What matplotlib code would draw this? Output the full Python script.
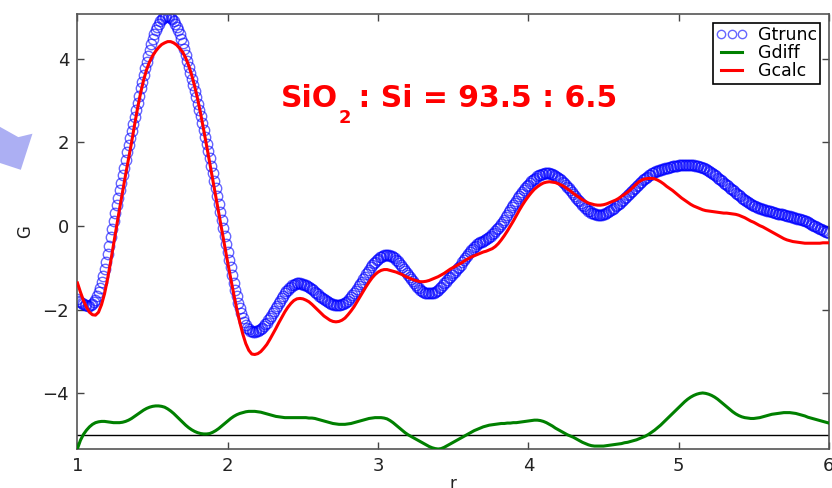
import numpy as np
import matplotlib
matplotlib.use('Agg')
import matplotlib.pyplot as plt
from matplotlib.patches import Polygon

# PDF curves, G(r): truncated data every 0.01, fit and difference every 0.02
g_trunc = [
    -1.75, -1.78, -1.81, -1.84, -1.86, -1.88, -1.89, -1.90, -1.90, -1.89,
    -1.86, -1.82, -1.76, -1.68, -1.58, -1.47, -1.34, -1.19, -1.03, -0.86,
    -0.67, -0.47, -0.27, -0.07, 0.12, 0.31, 0.50, 0.68, 0.86, 1.04,
    1.22, 1.40, 1.58, 1.76, 1.93, 2.10, 2.27, 2.44, 2.61, 2.78,
    2.95, 3.12, 3.29, 3.45, 3.61, 3.77, 3.92, 4.07, 4.21, 4.35,
    4.48, 4.59, 4.69, 4.77, 4.84, 4.90, 4.95, 4.98, 5.01, 5.02,
    5.02, 5.01, 4.98, 4.95, 4.90, 4.84, 4.77, 4.69, 4.59, 4.48,
    4.37, 4.23, 4.09, 3.94, 3.80, 3.66, 3.52, 3.38, 3.23, 3.08,
    2.93, 2.78, 2.62, 2.46, 2.30, 2.14, 1.97, 1.80, 1.62, 1.44,
    1.26, 1.08, 0.90, 0.71, 0.52, 0.33, 0.14, -0.05, -0.24, -0.43,
    -0.62, -0.81, -0.99, -1.17, -1.35, -1.52, -1.68, -1.83, -1.97, -2.09,
    -2.20, -2.29, -2.37, -2.43, -2.47, -2.50, -2.52, -2.53, -2.53, -2.52,
    -2.51, -2.49, -2.46, -2.43, -2.40, -2.35, -2.31, -2.25, -2.20, -2.14,
    -2.08, -2.02, -1.96, -1.90, -1.84, -1.78, -1.72, -1.66, -1.61, -1.56,
    -1.52, -1.48, -1.45, -1.42, -1.40, -1.38, -1.37, -1.37, -1.37, -1.38,
    -1.39, -1.40, -1.42, -1.44, -1.46, -1.48, -1.51, -1.54, -1.57, -1.60,
    -1.63, -1.66, -1.69, -1.72, -1.75, -1.77, -1.80, -1.82, -1.84, -1.86,
    -1.87, -1.88, -1.89, -1.89, -1.89, -1.89, -1.87, -1.86, -1.84, -1.81,
    -1.78, -1.74, -1.70, -1.65, -1.60, -1.55, -1.50, -1.44, -1.38, -1.33,
    -1.27, -1.21, -1.15, -1.09, -1.04, -0.99, -0.94, -0.89, -0.85, -0.81,
    -0.78, -0.75, -0.73, -0.71, -0.70, -0.69, -0.69, -0.70, -0.71, -0.72,
    -0.75, -0.77, -0.80, -0.84, -0.88, -0.92, -0.97, -1.02, -1.07, -1.12,
    -1.17, -1.22, -1.27, -1.32, -1.37, -1.41, -1.45, -1.49, -1.52, -1.55,
    -1.57, -1.59, -1.60, -1.61, -1.61, -1.61, -1.60, -1.59, -1.57, -1.55,
    -1.52, -1.49, -1.45, -1.41, -1.37, -1.33, -1.29, -1.25, -1.21, -1.17,
    -1.13, -1.09, -1.05, -1.01, -0.97, -0.92, -0.87, -0.82, -0.77, -0.72,
    -0.67, -0.62, -0.58, -0.54, -0.50, -0.47, -0.44, -0.41, -0.39, -0.37,
    -0.35, -0.33, -0.31, -0.29, -0.26, -0.23, -0.20, -0.16, -0.12, -0.08,
    -0.04, 0.00, 0.05, 0.10, 0.15, 0.21, 0.27, 0.33, 0.39, 0.45,
    0.51, 0.56, 0.61, 0.66, 0.71, 0.76, 0.81, 0.86, 0.91, 0.95,
    0.99, 1.03, 1.07, 1.10, 1.13, 1.16, 1.19, 1.21, 1.23, 1.24,
    1.25, 1.26, 1.26, 1.26, 1.26, 1.25, 1.24, 1.22, 1.20, 1.18,
    1.16, 1.13, 1.09, 1.06, 1.02, 0.98, 0.94, 0.90, 0.86, 0.81,
    0.77, 0.72, 0.68, 0.63, 0.59, 0.55, 0.51, 0.47, 0.44, 0.40,
    0.37, 0.35, 0.32, 0.31, 0.29, 0.28, 0.27, 0.27, 0.27, 0.27,
    0.28, 0.29, 0.31, 0.33, 0.35, 0.38, 0.41, 0.44, 0.47, 0.50,
    0.53, 0.56, 0.60, 0.63, 0.67, 0.70, 0.74, 0.77, 0.81, 0.84,
    0.88, 0.91, 0.95, 0.98, 1.02, 1.05, 1.09, 1.12, 1.15, 1.18,
    1.21, 1.23, 1.26, 1.28, 1.29, 1.31, 1.32, 1.34, 1.35, 1.36,
    1.37, 1.38, 1.39, 1.40, 1.41, 1.42, 1.43, 1.43, 1.44, 1.44,
    1.45, 1.45, 1.46, 1.46, 1.46, 1.46, 1.46, 1.46, 1.46, 1.45,
    1.45, 1.44, 1.44, 1.43, 1.42, 1.41, 1.40, 1.38, 1.36, 1.34,
    1.32, 1.30, 1.28, 1.25, 1.22, 1.19, 1.16, 1.13, 1.10, 1.07,
    1.04, 1.01, 0.98, 0.95, 0.92, 0.89, 0.86, 0.83, 0.80, 0.77,
    0.74, 0.71, 0.68, 0.65, 0.62, 0.60, 0.57, 0.55, 0.53, 0.51,
    0.49, 0.47, 0.46, 0.44, 0.43, 0.42, 0.40, 0.39, 0.38, 0.37,
    0.36, 0.35, 0.34, 0.33, 0.32, 0.31, 0.30, 0.30, 0.29, 0.28,
    0.27, 0.26, 0.25, 0.24, 0.23, 0.22, 0.21, 0.20, 0.19, 0.18,
    0.17, 0.16, 0.15, 0.14, 0.12, 0.11, 0.09, 0.07, 0.05, 0.03,
    0.01, -0.01, -0.03, -0.05, -0.07, -0.08, -0.10, -0.12, -0.13, -0.15,
    -0.16,
]

g_calc = [
    -1.36, -1.58, -1.78, -1.94, -2.06, -2.12, -2.13, -2.06, -1.88, -1.62,
    -1.27, -0.87, -0.44, 0.00, 0.41, 0.82, 1.22, 1.61, 2.00, 2.42,
    2.82, 3.18, 3.49, 3.74, 3.93, 4.07, 4.18, 4.27, 4.34, 4.38,
    4.41, 4.41, 4.38, 4.33, 4.25, 4.16, 4.02, 3.84, 3.61, 3.34,
    3.03, 2.68, 2.30, 1.91, 1.51, 1.11, 0.71, 0.31, -0.09, -0.49,
    -0.88, -1.26, -1.63, -1.98, -2.30, -2.58, -2.81, -2.97, -3.06, -3.07,
    -3.05, -3.00, -2.92, -2.83, -2.71, -2.58, -2.45, -2.31, -2.18, -2.05,
    -1.94, -1.85, -1.78, -1.74, -1.73, -1.74, -1.77, -1.81, -1.87, -1.94,
    -2.01, -2.08, -2.15, -2.20, -2.25, -2.28, -2.29, -2.28, -2.25, -2.20,
    -2.12, -2.03, -1.93, -1.81, -1.69, -1.57, -1.45, -1.34, -1.24, -1.16,
    -1.10, -1.06, -1.04, -1.04, -1.06, -1.08, -1.10, -1.13, -1.16, -1.20,
    -1.23, -1.26, -1.29, -1.31, -1.33, -1.33, -1.32, -1.30, -1.27, -1.24,
    -1.21, -1.17, -1.13, -1.08, -1.03, -0.99, -0.95, -0.91, -0.87, -0.82,
    -0.78, -0.74, -0.71, -0.68, -0.65, -0.62, -0.60, -0.57, -0.54, -0.49,
    -0.42, -0.33, -0.23, -0.12, 0.00, 0.12, 0.25, 0.38, 0.50, 0.61,
    0.71, 0.80, 0.88, 0.94, 0.99, 1.03, 1.05, 1.06, 1.05, 1.04,
    1.01, 0.98, 0.94, 0.89, 0.84, 0.78, 0.73, 0.68, 0.63, 0.59,
    0.55, 0.53, 0.51, 0.50, 0.50, 0.51, 0.53, 0.56, 0.59, 0.62,
    0.66, 0.71, 0.76, 0.81, 0.87, 0.94, 1.01, 1.07, 1.11, 1.13,
    1.14, 1.14, 1.13, 1.10, 1.06, 1.01, 0.95, 0.90, 0.85, 0.79,
    0.73, 0.67, 0.62, 0.57, 0.52, 0.48, 0.45, 0.42, 0.39, 0.37,
    0.36, 0.35, 0.34, 0.33, 0.32, 0.31, 0.31, 0.30, 0.29, 0.28,
    0.26, 0.23, 0.20, 0.16, 0.12, 0.09, 0.05, 0.01, -0.02, -0.06,
    -0.10, -0.14, -0.18, -0.22, -0.26, -0.30, -0.33, -0.35, -0.37, -0.38,
    -0.39, -0.40, -0.41, -0.41, -0.41, -0.41, -0.41, -0.41, -0.40, -0.40,
    -0.40,
]

g_diff = [
    -5.32, -5.12, -4.98, -4.88, -4.80, -4.74, -4.70, -4.68, -4.67, -4.67,
    -4.68, -4.69, -4.70, -4.70, -4.70, -4.69, -4.67, -4.64, -4.60, -4.55,
    -4.50, -4.45, -4.40, -4.36, -4.33, -4.31, -4.30, -4.30, -4.31, -4.33,
    -4.37, -4.42, -4.48, -4.55, -4.62, -4.69, -4.76, -4.82, -4.87, -4.91,
    -4.94, -4.96, -4.97, -4.97, -4.96, -4.93, -4.89, -4.84, -4.78, -4.72,
    -4.66, -4.60, -4.55, -4.51, -4.48, -4.46, -4.44, -4.43, -4.43, -4.43,
    -4.44, -4.45, -4.47, -4.49, -4.51, -4.53, -4.55, -4.56, -4.57, -4.58,
    -4.58, -4.58, -4.58, -4.58, -4.58, -4.58, -4.58, -4.59, -4.59, -4.60,
    -4.62, -4.64, -4.66, -4.68, -4.70, -4.72, -4.73, -4.74, -4.74, -4.74,
    -4.73, -4.72, -4.70, -4.68, -4.66, -4.64, -4.62, -4.60, -4.59, -4.58,
    -4.58, -4.58, -4.59, -4.61, -4.65, -4.70, -4.76, -4.82, -4.88, -4.94,
    -4.99, -5.03, -5.07, -5.11, -5.15, -5.19, -5.23, -5.27, -5.30, -5.32,
    -5.33, -5.32, -5.29, -5.25, -5.21, -5.17, -5.13, -5.09, -5.05, -5.01,
    -4.97, -4.93, -4.89, -4.86, -4.83, -4.80, -4.78, -4.76, -4.75, -4.74,
    -4.73, -4.72, -4.72, -4.71, -4.71, -4.70, -4.70, -4.69, -4.68, -4.67,
    -4.66, -4.65, -4.64, -4.64, -4.65, -4.67, -4.70, -4.74, -4.78, -4.83,
    -4.87, -4.91, -4.95, -4.99, -5.02, -5.05, -5.09, -5.13, -5.17, -5.20,
    -5.23, -5.25, -5.26, -5.26, -5.26, -5.26, -5.25, -5.24, -5.23, -5.22,
    -5.21, -5.20, -5.18, -5.17, -5.15, -5.13, -5.11, -5.08, -5.05, -5.02,
    -4.98, -4.93, -4.88, -4.82, -4.76, -4.69, -4.62, -4.55, -4.48, -4.41,
    -4.34, -4.27, -4.20, -4.14, -4.09, -4.05, -4.02, -4.00, -3.99, -4.00,
    -4.02, -4.05, -4.09, -4.14, -4.20, -4.26, -4.32, -4.38, -4.44, -4.49,
    -4.53, -4.56, -4.58, -4.59, -4.60, -4.60, -4.59, -4.58, -4.56, -4.54,
    -4.52, -4.50, -4.49, -4.48, -4.47, -4.46, -4.46, -4.46, -4.47, -4.48,
    -4.50, -4.52, -4.54, -4.57, -4.59, -4.61, -4.63, -4.65, -4.67, -4.69,
    -4.71,
]

r_trunc = np.linspace(1.0, 6.0, len(g_trunc))
r_fit = np.linspace(1.0, 6.0, len(g_calc))
diff_offset = -5.0

x_ticks = [1, 2, 3, 4, 5, 6]
y_ticks = [-4, -2, 0, 2, 4]
ratio_text = ['SiO', '2', ' : Si = 93.5 : 6.5']

plt.rcParams['font.family'] = ['DejaVu Sans']
plt.rcParams['axes.unicode_minus'] = True

fig = plt.figure(figsize=(8.32, 4.88), dpi=100)
ax = fig.add_axes([0.0931, 0.0799, 0.9032, 0.8914])

# slide arrow peeking in from the left
arrow = Polygon([(0.0, 0.740), (0.022, 0.719), (0.039, 0.726), (0.025, 0.652), (0.0, 0.666)],
                closed=True, transform=fig.transFigure, facecolor='#a3a6f2',
                edgecolor='none', alpha=0.9)
fig.patches.append(arrow)

ax.plot(r_trunc, g_trunc, 'o', ms=7.5, mfc='none', mec='blue', mew=1.0,
        alpha=0.6, label='Gtrunc', zorder=2)
ax.plot(r_fit, g_diff, color='green', lw=2.2, label='Gdiff', zorder=3)
ax.plot(r_fit, g_calc, color='red', lw=2.2, label='Gcalc', zorder=4)
ax.axhline(diff_offset, color='black', lw=1.0, zorder=2.5)

ax.set_xlim(1, 6)
ax.set_ylim(-5.33, 5.07)
ax.set_xticks(x_ticks)
ax.set_yticks(y_ticks)
ax.tick_params(direction='in', top=True, right=True, length=5, width=1,
               labelsize=13, pad=6, color='#444444', labelcolor='#222222')
for sp in ax.spines.values():
    sp.set_color('#555555')
    sp.set_linewidth(1.2)

ax.set_xlabel('r', fontsize=12, color='#222222')
ax.set_ylabel('G', fontsize=12, color='#222222')
ax.xaxis.set_label_coords(0.5, -0.06)
ax.yaxis.set_label_coords(-0.058, 0.5)

leg = ax.legend(loc='upper right', numpoints=3, fontsize=12.5, fancybox=False,
                edgecolor='black', framealpha=1, labelspacing=0.0,
                handlelength=1.8, handletextpad=0.6, borderpad=0.2,
                borderaxespad=0.5, markerscale=0.8)
leg.get_frame().set_linewidth(1.2)

# composition label with a dropped subscript
base_r, base_g = 2.355, 2.854
t1 = ax.text(base_r, base_g, ratio_text[0], color='red', fontsize=21.5,
             weight='bold', va='baseline', ha='left')
t2 = ax.annotate(ratio_text[1], xy=(1, base_g), xycoords=(t1, 'data'),
                 xytext=(0, -12), textcoords='offset points', color='red',
                 fontsize=13, weight='bold', va='baseline', ha='left')
t3 = ax.annotate(ratio_text[2], xy=(1, base_g), xycoords=(t2, 'data'),
                 xytext=(-2, 0), textcoords='offset points', color='red',
                 fontsize=21.5, weight='bold', va='baseline', ha='left')

fig.savefig('out.png', dpi=100)
